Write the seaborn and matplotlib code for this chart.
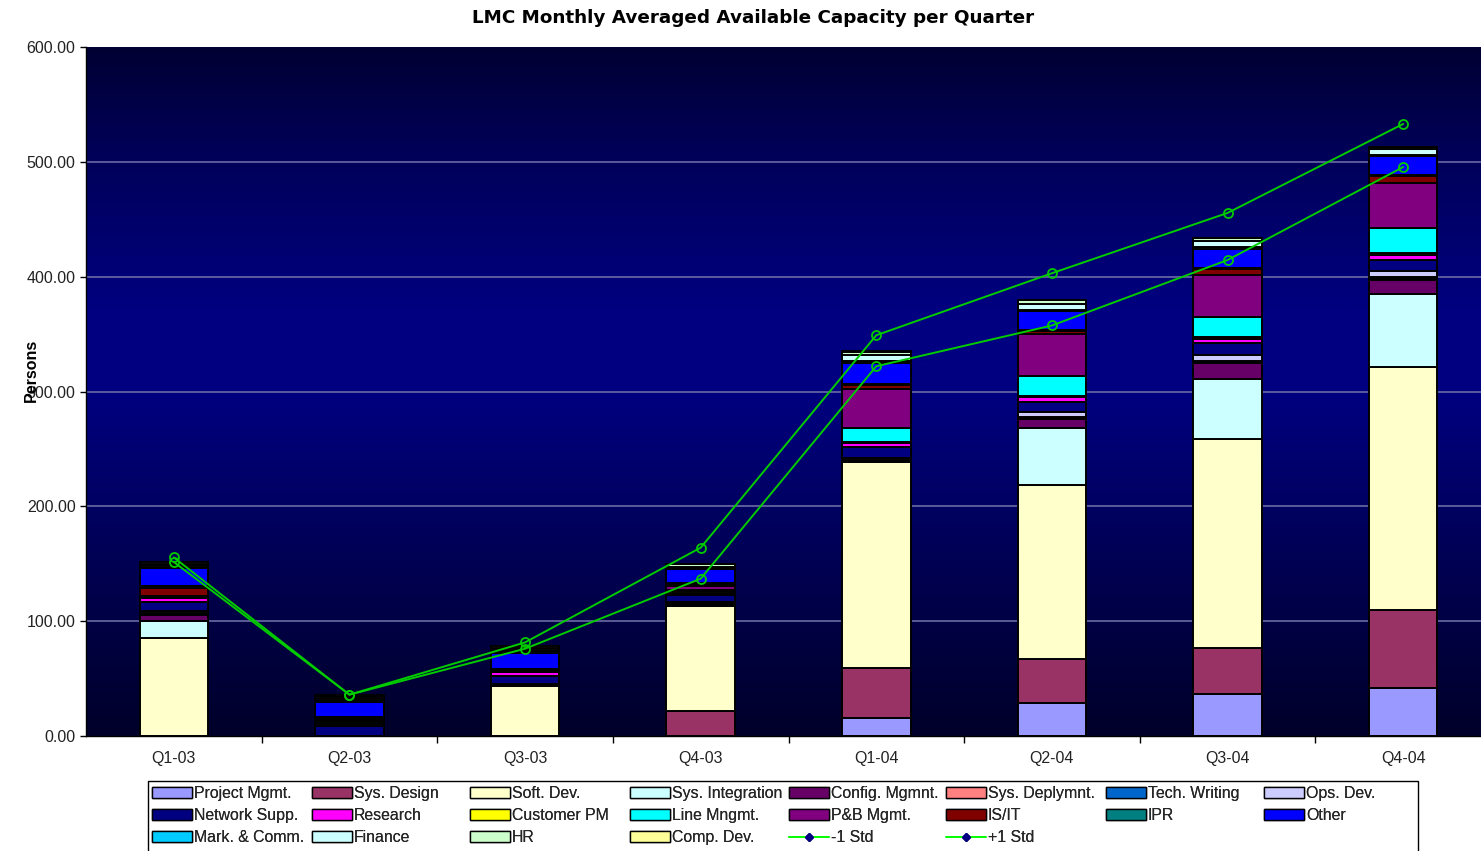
import numpy as np
import matplotlib
matplotlib.use("Agg")
import matplotlib.pyplot as plt
from matplotlib.colors import LinearSegmentedColormap
from matplotlib.patches import Rectangle, Patch
from matplotlib.lines import Line2D
import seaborn as sns

# ---------------- data ----------------
quarters = ["Q1-03", "Q2-03", "Q3-03", "Q4-03", "Q1-04", "Q2-04", "Q3-04", "Q4-04"]

series_names = ["Project Mgmt.", "Sys. Design", "Soft. Dev.", "Sys. Integration",
                "Config. Mgmnt.", "Sys. Deplymnt.", "Tech. Writing", "Ops. Dev.",
                "Network Supp.", "Research", "Customer PM", "Line Mngmt.",
                "P&B Mgmt.", "IS/IT", "IPR", "Other",
                "Mark. & Comm.", "Finance", "HR", "Comp. Dev."]

series_colors = ["#9999FF", "#993366", "#FFFFCC", "#CCFFFF",
                 "#660066", "#FF8080", "#0066CC", "#CCCCFF",
                 "#000080", "#FF00FF", "#FFFF00", "#00FFFF",
                 "#800080", "#800000", "#008080", "#0000FF",
                 "#00CCFF", "#CCFFFF", "#CCFFCC", "#FFFF99"]

project_mgmt   = [0.0, 0.0, 0.0, 0.0, 15.5, 28.5, 36.5, 42.0]
sys_design     = [0.0, 0.0, 0.0, 22.0, 43.5, 38.5, 40.5, 67.5]
soft_dev       = [85.5, 0.0, 43.5, 91.0, 179.5, 152.0, 182.0, 211.5]
sys_integration= [15.0, 0.0, 0.5, 1.0, 0.6, 49.0, 52.0, 64.0]
config_mgmnt   = [4.5, 0.0, 0.5, 1.0, 0.6, 8.0, 13.5, 12.5]
sys_deplymnt   = [1.2, 0.0, 0.3, 0.5, 0.3, 0.5, 0.5, 0.5]
tech_writing   = [1.2, 0.0, 0.3, 0.5, 0.5, 1.0, 1.5, 1.5]
ops_dev        = [1.6, 0.0, 0.5, 0.5, 2.0, 5.0, 5.0, 5.5]
network_supp   = [7.5, 8.5, 6.9, 6.5, 9.5, 8.5, 10.5, 9.5]
research       = [3.5, 1.4, 3.5, 1.5, 3.0, 4.0, 4.0, 4.5]
customer_pm    = [0.5, 1.4, 0.5, 1.5, 1.0, 1.5, 1.5, 1.5]
line_mngmt     = [0.5, 1.4, 0.5, 1.5, 12.5, 17.0, 17.5, 21.5]
pb_mgmt        = [0.6, 1.4, 0.5, 3.5, 33.5, 36.5, 36.5, 40.0]
is_it          = [7.4, 1.4, 0.5, 1.0, 4.0, 2.5, 5.0, 6.0]
ipr            = [1.5, 1.4, 0.5, 1.0, 0.8, 1.0, 0.8, 0.8]
other          = [15.5, 13.0, 14.0, 12.0, 18.2, 16.5, 17.2, 16.2]
mark_comm      = [1.3, 1.5, 1.3, 1.0, 1.5, 1.0, 1.0, 1.0]
finance        = [1.4, 1.5, 1.4, 1.0, 5.0, 5.0, 5.5, 5.0]
hr             = [1.4, 1.5, 1.4, 2.5, 3.0, 3.5, 3.0, 1.5]
comp_dev       = [1.4, 1.5, 1.4, 0.5, 0.5, 0.0, 0.0, 0.5]

minus_std = [151.5, 36.0, 76.0, 137.0, 322.0, 357.5, 414.5, 495.5]
plus_std  = [155.5, 36.0, 81.5, 164.0, 349.0, 403.0, 455.5, 533.0]

y_ticks = [0, 100, 200, 300, 400, 500, 600]

series_values = [project_mgmt, sys_design, soft_dev, sys_integration, config_mgmnt,
                 sys_deplymnt, tech_writing, ops_dev, network_supp, research,
                 customer_pm, line_mngmt, pb_mgmt, is_it, ipr, other,
                 mark_comm, finance, hr, comp_dev]

# ---------------- style ----------------
sns.set_theme(style="white")
plt.rcParams["font.family"] = ["Liberation Sans", "DejaVu Sans"]

W, H = 1481, 851
fig = plt.figure(figsize=(W / 100, H / 100), dpi=100)
fig.patch.set_facecolor("white")

ax_left, ax_right, ax_top, ax_bottom = 86, 1491, 47, 736
ax = fig.add_axes([ax_left / W, 1 - ax_bottom / H,
                   (ax_right - ax_left) / W, (ax_bottom - ax_top) / H])

# gradient background (plot area)
cmap = LinearSegmentedColormap.from_list(
    "bg", [(0.0, "#00002a"), (0.2, "#00004a"), (0.5, "#000080"),
           (0.62, "#000080"), (0.85, "#000058"), (1.0, "#000033")])
grad = np.linspace(0, 1, 256).reshape(-1, 1)
ax.imshow(grad, aspect="auto", cmap=cmap, origin="lower",
          extent=(0, 1, 0, 1), transform=ax.transAxes, zorder=0)

x = np.arange(len(quarters))

# gridlines
for yv in y_ticks[1:-1]:
    ax.axhline(yv, color="#6a6aa6", lw=1.2, zorder=1)

# stacked bars
bottom = np.zeros(len(quarters))
for name, vals, col in zip(series_names, series_values, series_colors):
    v = np.array(vals)
    ax.bar(x, v, bottom=bottom, width=0.39, color=col, edgecolor="black",
           linewidth=1.4, zorder=2)
    bottom += v

# std lines
line_green = "#00cc00"
for vals in (minus_std, plus_std):
    sns.lineplot(x=x, y=vals, ax=ax, color=line_green, lw=1.4, marker="o",
                 markersize=6.5, markerfacecolor="none", markeredgecolor=line_green,
                 markeredgewidth=1.3, legend=False, zorder=4)

ax.set_xlim(-0.5, len(quarters) - 0.5)
ax.set_ylim(0, 600)

ax.set_yticks(y_ticks)
ax.set_yticklabels([f"{v:.2f}" for v in y_ticks])
ax.set_xticks(x)
ax.set_xticklabels(quarters)
ax.set_xticks(np.arange(0.5, len(quarters) - 0.5, 1.0), minor=True)
ax.tick_params(axis="y", which="major", left=True, length=4.5, width=1,
               color="black", pad=3, labelsize=11.5, labelcolor="#222222")
ax.tick_params(axis="x", which="major", bottom=False, length=0, pad=11,
               labelsize=11.5, labelcolor="#222222")
ax.tick_params(axis="x", which="minor", bottom=True, length=5, width=1,
               color="black")
ax.set_xlabel("")
ax.set_ylabel("")
for s in ["top", "right"]:
    ax.spines[s].set_visible(False)
for s in ["left", "bottom"]:
    ax.spines[s].set_color("black")
    ax.spines[s].set_linewidth(1.0)
ax.grid(False)

# title and y label
fig.text(753 / W, 1 - 18 / H, "LMC Monthly Averaged Available Capacity per Quarter",
         ha="center", va="center", fontsize=13.2, fontweight="bold",
         family=["DejaVu Sans"], color="black")
fig.text(31 / W, 1 - 370 / H, "Persons", ha="center", va="center", rotation=90,
         fontsize=11.5, fontweight="bold", color="black")

# legend
handles = [Patch(facecolor=c, edgecolor="black", linewidth=1.0) for c in series_colors]
labels = list(series_names)
for lab in ("-1 Std", "+1 Std"):
    handles.append(Line2D([], [], color="#00ff00", lw=1.2, marker="D", markersize=4.5,
                          markerfacecolor="#000080", markeredgecolor="#000080"))
    labels.append(lab)

frame = Rectangle((148 / W, -0.01), (1418 - 148) / W, 0.01 + (1 - 781 / H),
                  transform=fig.transFigure, facecolor="white", edgecolor="black",
                  linewidth=1.0, zorder=0)
fig.add_artist(frame)

col_x = [152, 312, 470, 630, 789, 946, 1106, 1264]
for j, cx in enumerate(col_x):
    idx = [j + 8 * r for r in range(3) if j + 8 * r < len(handles)]
    leg = fig.legend([handles[i] for i in idx], [labels[i] for i in idx],
                     loc="upper left", bbox_to_anchor=(cx / W, 1 - 786 / H),
                     bbox_transform=fig.transFigure, frameon=False, ncol=1,
                     fontsize=11.4, handlelength=2.5, handleheight=0.65,
                     handletextpad=0.15, labelspacing=0.45, borderpad=0,
                     borderaxespad=0)
    fig.add_artist(leg)

fig.savefig("out.png", dpi=100, facecolor="white")
